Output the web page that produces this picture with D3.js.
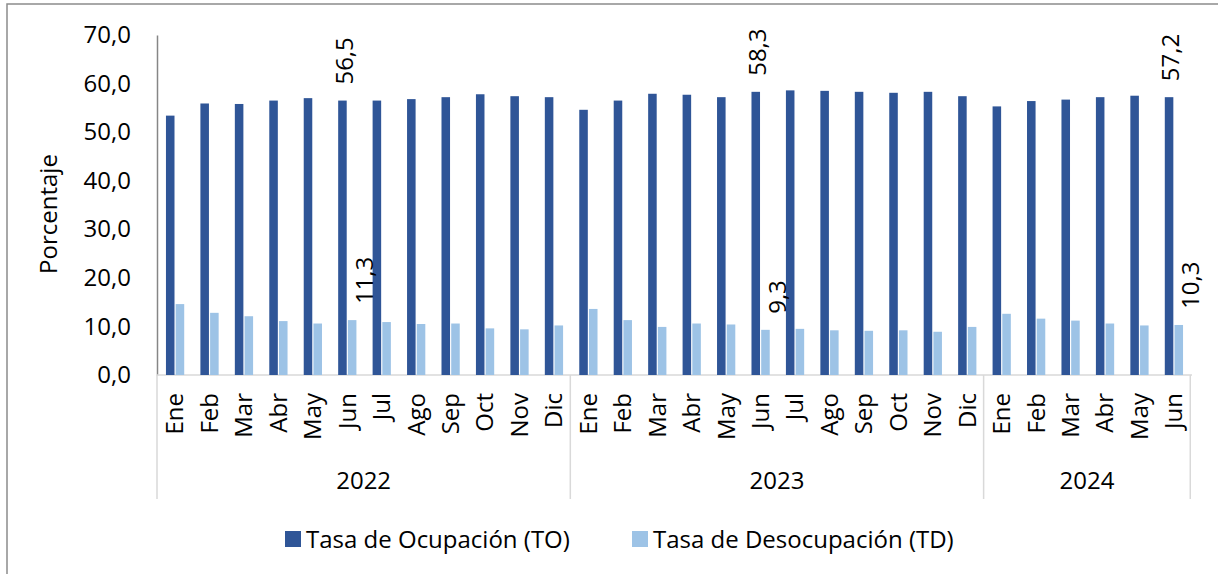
<!DOCTYPE html>
<html>
<head>
<meta charset="utf-8">
<script src="https://cdn.jsdelivr.net/npm/d3@7/dist/d3.min.js"></script>
<style>
    body { margin: 0; background: #ffffff; }
    text { font-family: "Open Sans", sans-serif; fill: #000000; }
</style>
</head>
<body>
<div id="chart-area"></div>
<script>
//============================DATA============================
var years = ["2022", "2023", "2024"];
var monthsPerYear = [12, 12, 6];
var months = ["Ene", "Feb", "Mar", "Abr", "May", "Jun", "Jul", "Ago", "Sep", "Oct", "Nov", "Dic"];

// Tasa de Ocupación (TO)
var ocupacion = [53.4, 55.9, 55.8, 56.5, 57.0, 56.5, 56.5, 56.8, 57.2, 57.8, 57.4, 57.2,
                 54.6, 56.5, 57.9, 57.7, 57.2, 58.3, 58.6, 58.5, 58.3, 58.1, 58.3, 57.4,
                 55.3, 56.4, 56.7, 57.2, 57.5, 57.2];
// Tasa de Desocupación (TD)
var desocupacion = [14.6, 12.8, 12.1, 11.1, 10.6, 11.3, 10.9, 10.5, 10.6, 9.6, 9.4, 10.2,
                    13.6, 11.3, 9.9, 10.6, 10.4, 9.3, 9.5, 9.2, 9.1, 9.2, 8.9, 9.9,
                    12.6, 11.6, 11.2, 10.6, 10.2, 10.3];

var seriesNames = ["Tasa de Ocupación (TO)", "Tasa de Desocupación (TD)"];
var seriesColors = ["#2F5597", "#9DC3E6"];
var yTicks = [0, 10, 20, 30, 40, 50, 60, 70];
var labelledMonth = "Jun"; // only these months carry value labels

//============================GLOBALS============================
var margins = { left: 157, right: 26, top: 35, bottom: 199 };
var width = 1218 - margins.left - margins.right;
var height = 574 - margins.top - margins.bottom;

var svg = d3.select("#chart-area")
    .append("svg")
    .attr("width", 1218)
    .attr("height", 574);

// chart border (left / top visible)
svg.append("rect")
    .attr("x", 7).attr("y", 4)
    .attr("width", 1230).attr("height", 590)
    .attr("fill", "none")
    .attr("stroke", "#8c8c8c")
    .attr("stroke-width", 1.5);

var g = svg.append("g")
    .attr("transform", "translate(" + margins.left + ", " + margins.top + ")");

// flatten into one row per month
var data = [];
var idx = 0;
years.forEach(function(yr, i){
    for (var m = 0; m < monthsPerYear[i]; m++) {
        data.push({ key: yr + "-" + months[m], year: yr, month: months[m],
                    to: ocupacion[idx], td: desocupacion[idx] });
        idx++;
    }
});

//============================SCALES============================
var x0 = d3.scaleBand()
    .domain(data.map(function(d){ return d.key; }))
    .range([0, width])
    .paddingInner(0.47)
    .paddingOuter(0.26);

var x1 = d3.scaleBand()
    .domain(["to", "td"])
    .range([0, x0.bandwidth()])
    .paddingInner(0.12);

var y = d3.scaleLinear()
    .domain([0, 70])
    .range([height, 0]);

var step = x0.step();

//============================AXES============================
// y axis: labels only plus the line
var yAxisCall = d3.axisLeft(y)
    .tickValues(yTicks)
    .tickSize(0)
    .tickPadding(26)
    .tickFormat(function(d){ return d.toFixed(1).replace(".", ","); });

var yAxis = g.append("g")
    .attr("class", "y axis")
    .call(yAxisCall);
yAxis.select(".domain").attr("stroke", "#868686").attr("stroke-width", 1.5);
yAxis.selectAll("text")
    .attr("font-size", "24px")
    .attr("font-family", "Open Sans, sans-serif")
    .attr("fill", "#000");

// y axis title
g.append("text")
    .attr("transform", "rotate(-90)")
    .attr("x", -179)
    .attr("y", -108)
    .attr("dy", "0.35em")
    .attr("text-anchor", "middle")
    .attr("font-size", "24px")
    .text("Porcentaje");

// x axis line
g.append("line")
    .attr("x1", 0).attr("x2", width)
    .attr("y1", height).attr("y2", height)
    .attr("stroke", "#d9d9d9")
    .attr("stroke-width", 1.5);

// month labels
g.selectAll(".month-label")
    .data(data)
    .enter()
    .append("text")
    .attr("class", "month-label")
    .attr("transform", function(d){
        return "translate(" + (x0(d.key) + x0.bandwidth() / 2) + "," + (height + 18) + ") rotate(-90)";
    })
    .attr("text-anchor", "end")
    .attr("dy", "0.35em")
    .attr("font-size", "24px")
    .text(function(d){ return d.month; });

// year groups: separators + labels
var start = 0;
var bounds = [0];
monthsPerYear.forEach(function(n){ start += n; bounds.push(start); });

g.selectAll(".year-sep")
    .data(bounds)
    .enter()
    .append("line")
    .attr("class", "year-sep")
    .attr("x1", function(b){ return b * step; })
    .attr("x2", function(b){ return b * step; })
    .attr("y1", height)
    .attr("y2", height + 124)
    .attr("stroke", "#d9d9d9")
    .attr("stroke-width", 1.5);

g.selectAll(".year-label")
    .data(years)
    .enter()
    .append("text")
    .attr("class", "year-label")
    .attr("x", function(d, i){ return (bounds[i] + bounds[i + 1]) / 2 * step; })
    .attr("y", height + 114)
    .attr("text-anchor", "middle")
    .attr("font-size", "24px")
    .text(function(d){ return d; });

//============================BARS============================
var groups = g.selectAll(".cat")
    .data(data)
    .enter()
    .append("g")
    .attr("class", "cat")
    .attr("transform", function(d){ return "translate(" + x0(d.key) + ",0)"; });

groups.append("rect")
    .attr("x", x1("to"))
    .attr("y", function(d){ return y(d.to); })
    .attr("width", x1.bandwidth())
    .attr("height", function(d){ return height - y(d.to); })
    .attr("fill", seriesColors[0]);

groups.append("rect")
    .attr("x", x1("td"))
    .attr("y", function(d){ return y(d.td); })
    .attr("width", x1.bandwidth())
    .attr("height", function(d){ return height - y(d.td); })
    .attr("fill", seriesColors[1]);

// value labels (June of every year)
var fmt = function(v){ return v.toFixed(1).replace(".", ","); };
var labelled = data.filter(function(d){ return d.month === labelledMonth; });

g.selectAll(".to-label")
    .data(labelled)
    .enter()
    .append("text")
    .attr("class", "to-label")
    .attr("transform", function(d){
        return "translate(" + (x0(d.key) + x1("to") + x1.bandwidth() / 2 + 2) + "," + (y(d.to) - 16) + ") rotate(-90)";
    })
    .attr("dy", "0.35em")
    .attr("font-size", "24px")
    .text(function(d){ return fmt(d.to); });

g.selectAll(".td-label")
    .data(labelled)
    .enter()
    .append("text")
    .attr("class", "td-label")
    .attr("transform", function(d){
        return "translate(" + (x0(d.key) + x1("td") + x1.bandwidth() / 2 + 12) + "," + (y(d.td) - 16) + ") rotate(-90)";
    })
    .attr("dy", "0.35em")
    .attr("font-size", "24px")
    .text(function(d){ return fmt(d.td); });

//============================LEGEND============================
var legendX = [285, 632];
var legend = svg.selectAll(".legend")
    .data(seriesNames)
    .enter()
    .append("g")
    .attr("class", "legend")
    .attr("transform", function(d, i){ return "translate(" + legendX[i] + ",531)"; });

legend.append("rect")
    .attr("width", 16).attr("height", 16)
    .attr("fill", function(d, i){ return seriesColors[i]; });

legend.append("text")
    .attr("x", 21)
    .attr("y", 17)
    .attr("font-size", "24px")
    .text(function(d){ return d; });
</script>
</body>
</html>
